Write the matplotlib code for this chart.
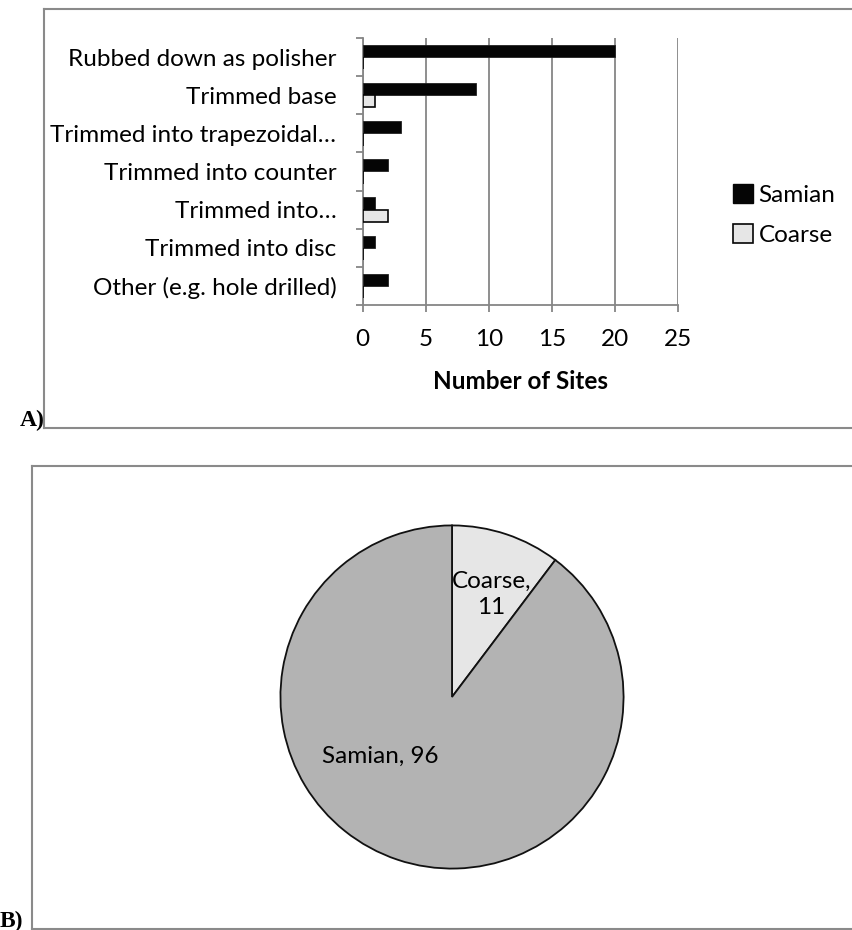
import numpy as np
import matplotlib
matplotlib.use("Agg")
import matplotlib.pyplot as plt
from matplotlib.patches import Patch
from matplotlib.lines import Line2D

plt.rcParams['font.family'] = ['Lato', 'DejaVu Sans']

# Modification types (top to bottom) and counts of sites
categories = [
    "Rubbed down as polisher",
    "Trimmed base",
    "Trimmed into trapezoidal\u2026",
    "Trimmed into counter",
    "Trimmed into\u2026",
    "Trimmed into disc",
    "Other (e.g. hole drilled)",
]
samian_sites = [20, 9, 3, 2, 1, 1, 2]
coarse_sites = [0, 1, 0, 0, 2, 0, 0]
xticks = [0, 5, 10, 15, 20, 25]

# Totals for the pie
pie_names = ["Coarse", "Samian"]
pie_values = [11, 96]

W, H = 852, 930
fig = plt.figure(figsize=(W / 100, H / 100), dpi=100)

def fx(px):
    return px / W

def fy(py):
    return 1 - py / H

grid_col = "#868686"
fs = 17.5

# ---- A) bar chart
ax = fig.add_axes([fx(362.7), fy(305), fx(677.7) - fx(362.7), fy(38) - fy(305)])
n = len(categories)
y = np.arange(n)[::-1]
bh = 0.32
ax.barh(y + bh / 2, samian_sites, height=bh, color="#050505", edgecolor="#222222",
        linewidth=0.6, label="Samian", zorder=3)
ax.barh(y - bh / 2, coarse_sites, height=bh, color="#e6e6e6", edgecolor="#050505",
        linewidth=1.2, label="Coarse", zorder=3)

ax.set_xlim(0, 25)
ax.set_ylim(-0.5, n - 0.5)
ax.set_xticks(xticks)
ax.set_xticklabels([str(t) for t in xticks], fontsize=fs)
ax.xaxis.grid(True, color=grid_col, linewidth=1.3)
ax.set_axisbelow(True)

# boundaries get tick marks, centres get the labels
ax.set_yticks(np.arange(n + 1) - 0.5)
ax.set_yticklabels([])
ax.set_yticks(y, minor=True)
ax.set_yticklabels(categories, minor=True, fontsize=fs)
ax.tick_params(axis="y", which="major", length=5, width=1.3, color=grid_col, direction="out")
ax.tick_params(axis="y", which="minor", length=0, pad=19)
ax.tick_params(axis="x", length=5, width=1.3, color=grid_col, pad=12)

for s in ["top", "right"]:
    ax.spines[s].set_visible(False)
for s in ["left", "bottom"]:
    ax.spines[s].set_color(grid_col)
    ax.spines[s].set_linewidth(1.3)

ax.set_xlabel("Number of Sites", fontsize=fs, fontweight="bold", labelpad=15)

handles = [Patch(facecolor="#050505", edgecolor="#050505", label="Samian"),
           Patch(facecolor="#e6e6e6", edgecolor="#050505", linewidth=1.2, label="Coarse")]
fig.legend(handles=handles, loc="center left", bbox_to_anchor=(fx(721), fy(215)),
           frameon=False, fontsize=fs, handlelength=0.8, handleheight=0.8,
           handletextpad=0.25, labelspacing=0.75, borderpad=0)

# ---- B) pie chart
cx, cy, r = 452, 697, 175
pax = fig.add_axes([fx(cx - r), fy(cy + r), fx(2 * r), fy(cy - r) - fy(cy + r)])
pax.pie(pie_values, colors=["#e6e6e6", "#b3b3b3"], startangle=90, counterclock=False,
        radius=1, wedgeprops=dict(edgecolor="#111111", linewidth=1.3))
pax.set_xlim(-1.02, 1.02)
pax.set_ylim(-1.02, 1.02)
pax.text(0.229, 0.60, f"{pie_names[0]},\n{pie_values[0]}", ha="center", va="center",
         fontsize=fs, linespacing=1.3)
pax.text(-0.417, -0.343, f"{pie_names[1]}, {pie_values[1]}", ha="center", va="center",
         fontsize=fs)

# ---- panel frames and letters
frame = dict(color="#8a8a8a", linewidth=1.5, transform=fig.transFigure)
fig.add_artist(Line2D([fx(44), 1], [fy(9), fy(9)], **frame))
fig.add_artist(Line2D([fx(44), fx(44)], [fy(9), fy(428)], **frame))
fig.add_artist(Line2D([fx(44), 1], [fy(428), fy(428)], **frame))

fig.add_artist(Line2D([fx(32), 1], [fy(466), fy(466)], **frame))
fig.add_artist(Line2D([fx(32), fx(32)], [fy(466), fy(929)], **frame))
fig.add_artist(Line2D([fx(32), 1], [fy(929), fy(929)], **frame))

fig.text(fx(20), fy(426), "A)", fontsize=17, fontweight="bold",
         family="Liberation Serif", ha="left", va="baseline")
fig.text(fx(0), fy(927), "B)", fontsize=17, fontweight="bold",
         family="Liberation Serif", ha="left", va="baseline")

fig.savefig("out.png", dpi=100)
